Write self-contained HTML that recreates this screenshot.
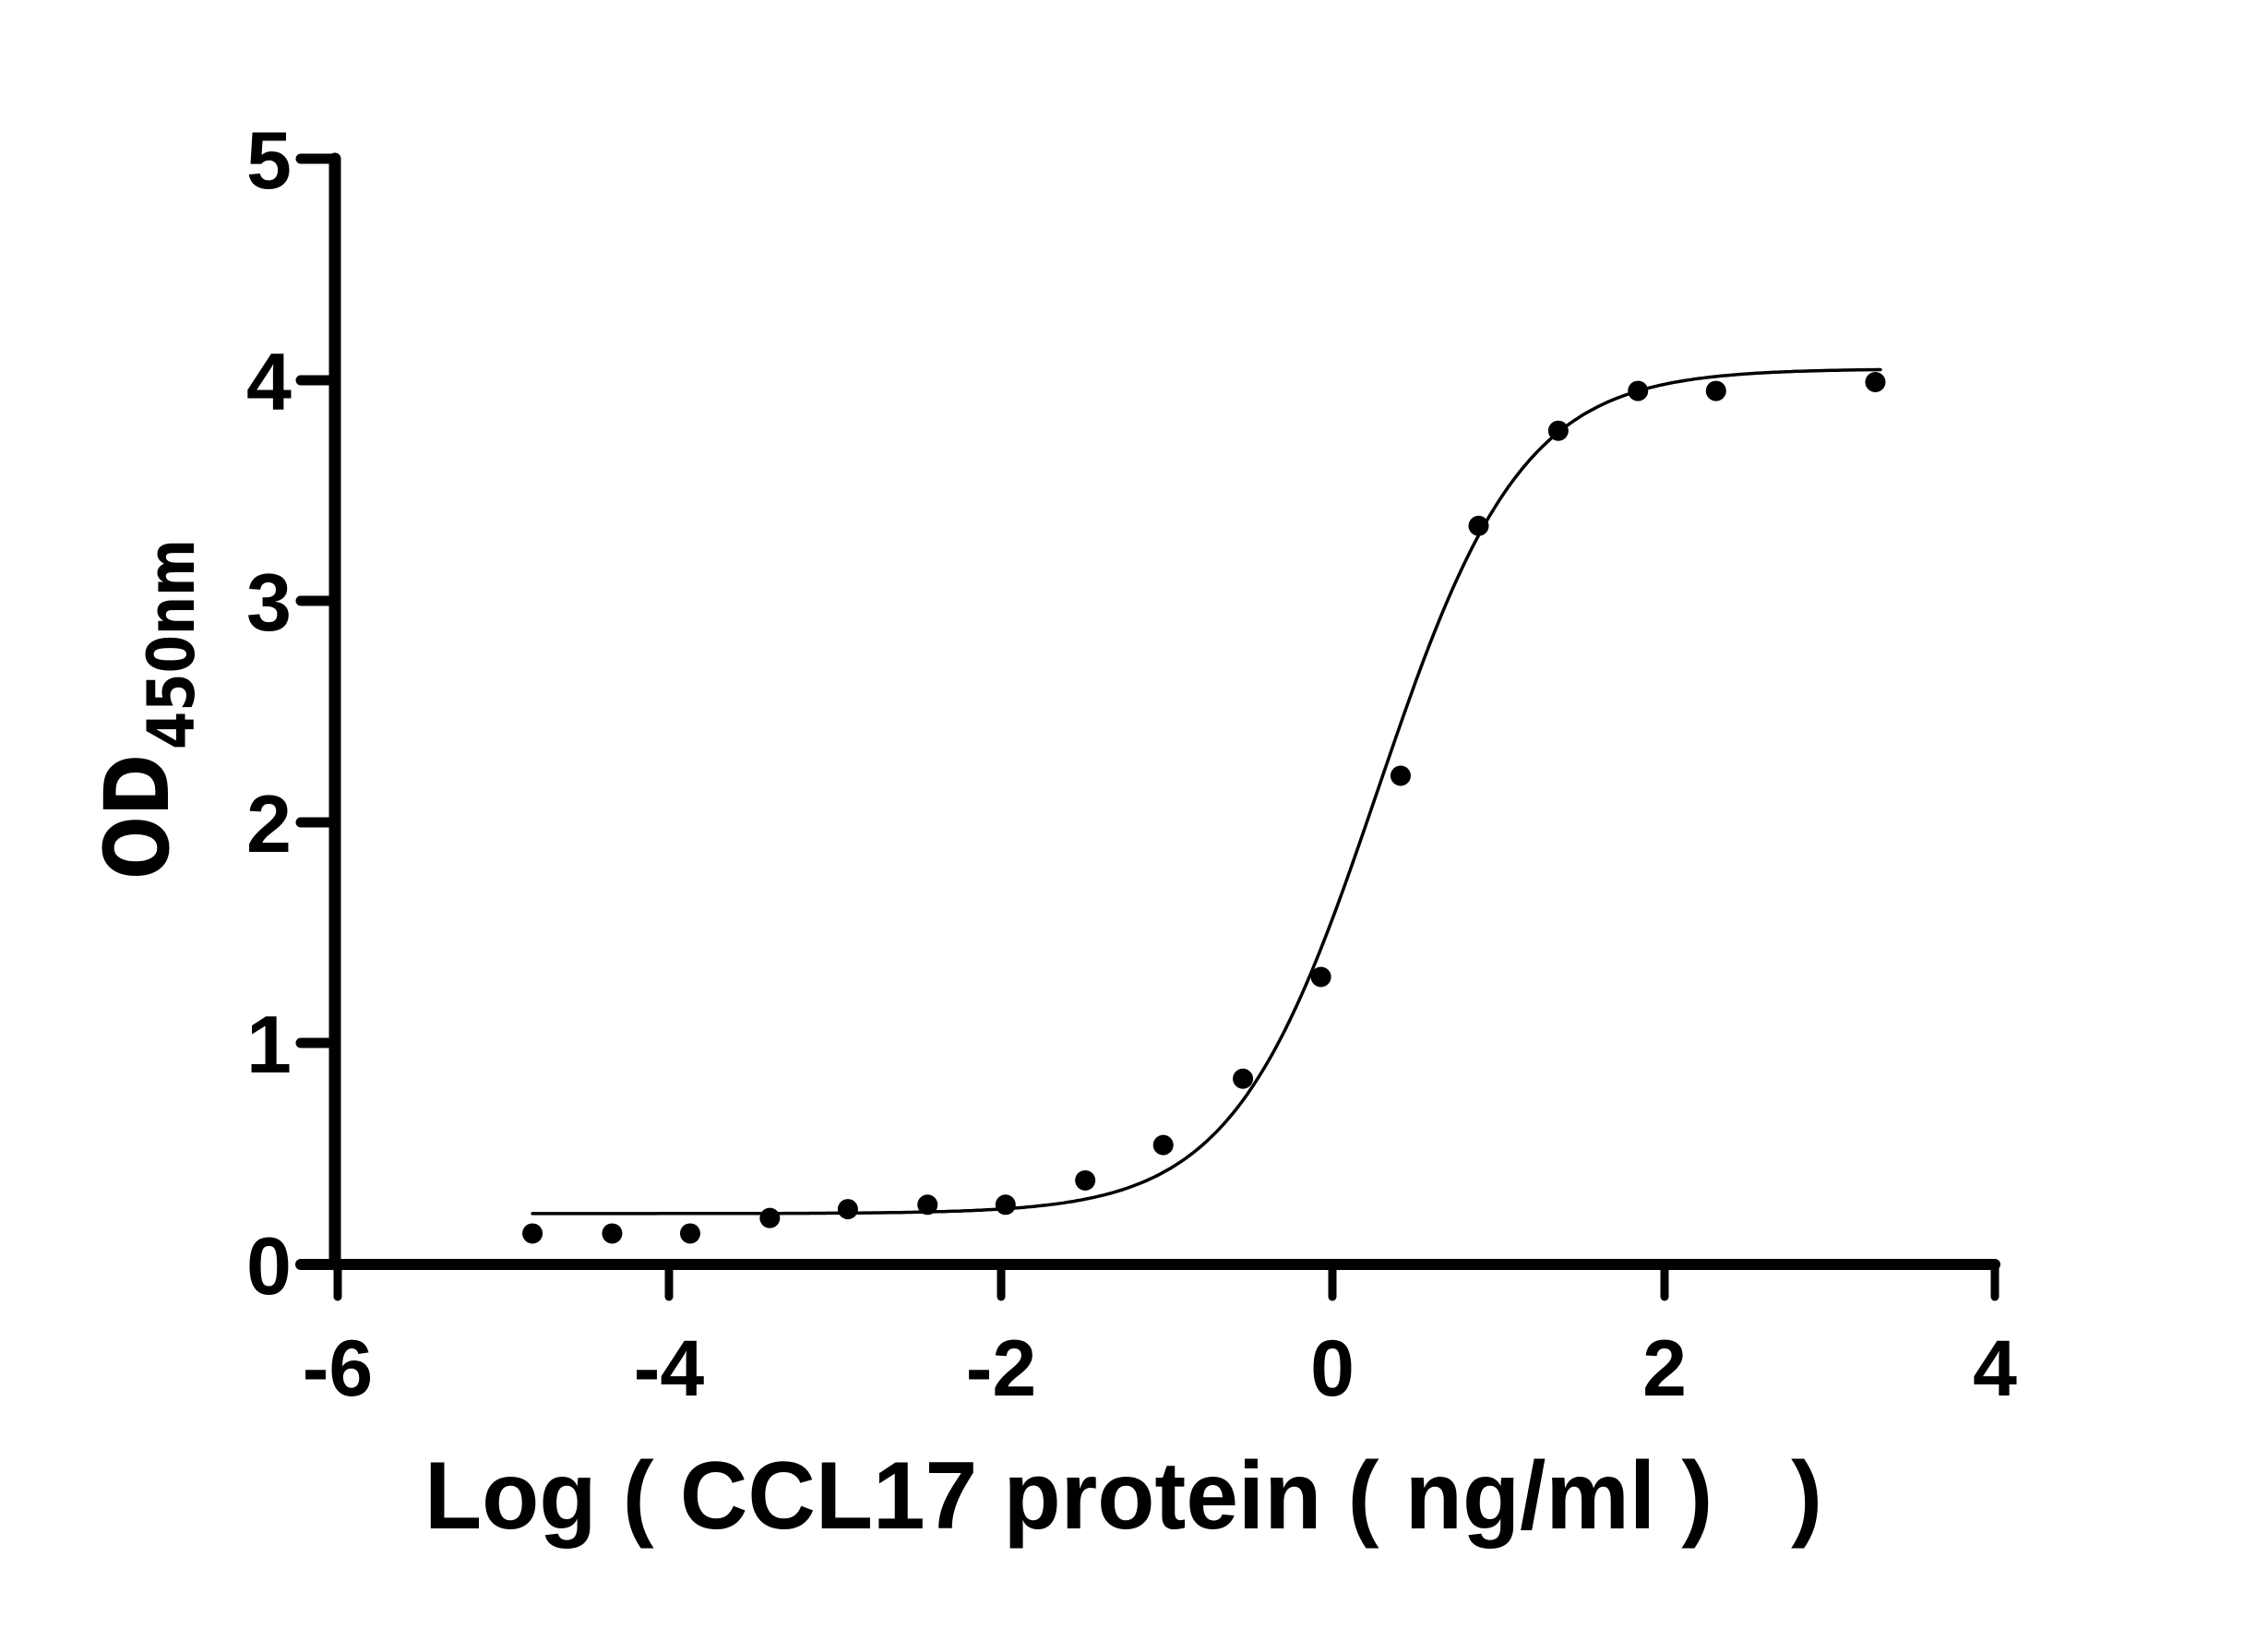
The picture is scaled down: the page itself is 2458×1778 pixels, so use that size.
<!DOCTYPE html>
<html><head><meta charset="utf-8"><style>html,body{margin:0;padding:0;background:#fff}</style></head>
<body>
<svg id="s" width="2458" height="1773" viewBox="0 0 2458 1773" xmlns="http://www.w3.org/2000/svg">
<rect width="2458" height="1773" fill="#fff"/>
<g stroke="#000" stroke-linecap="round" fill="none">
<line x1="363" y1="172" x2="363" y2="1370" stroke-width="13"/>
<line x1="326" y1="1370" x2="2162" y2="1370" stroke-width="12"/>
<g stroke-width="11">
<line x1="326" y1="172" x2="363" y2="172"/>
<line x1="326" y1="412" x2="363" y2="412"/>
<line x1="326" y1="651" x2="363" y2="651"/>
<line x1="326" y1="891" x2="363" y2="891"/>
<line x1="326" y1="1130" x2="363" y2="1130"/>
</g>
<g stroke-width="9">
<line x1="366" y1="1370" x2="366" y2="1405"/>
<line x1="725" y1="1370" x2="725" y2="1405"/>
<line x1="1085" y1="1370" x2="1085" y2="1405"/>
<line x1="1444" y1="1370" x2="1444" y2="1405"/>
<line x1="1804" y1="1370" x2="1804" y2="1405"/>
<line x1="2162" y1="1370" x2="2162" y2="1405"/>
</g>
<polyline id="curve" stroke-width="3.5" points=""/>
</g>
<g id="dots" fill="#000"></g>
<g font-family="Liberation Sans, sans-serif" font-weight="bold" font-size="88" fill="#000" text-anchor="end">
<text x="316" y="204">5</text>
<text x="316" y="444">4</text>
<text x="316" y="683">3</text>
<text x="316" y="923">2</text>
<text x="316" y="1162">1</text>
<text x="316" y="1402">0</text>
</g>
<g font-family="Liberation Sans, sans-serif" font-weight="bold" font-size="86" fill="#000" text-anchor="middle">
<text x="366" y="1512">-6</text>
<text x="725" y="1512">-4</text>
<text x="1085" y="1512">-2</text>
<text x="1444" y="1512">0</text>
<text x="1804" y="1512">2</text>
<text x="2162" y="1512">4</text>
</g>
<text x="460" y="1656" font-family="Liberation Sans, sans-serif" font-weight="bold" font-size="104" textLength="1515" lengthAdjust="spacingAndGlyphs" xml:space="preserve">Log ( CCL17 protein ( ng/ml )   )</text>
<g transform="translate(182,953) rotate(-90)" font-family="DejaVu Sans, sans-serif" font-weight="bold" fill="#000">
<text x="0" y="0" font-size="96" textLength="136" lengthAdjust="spacingAndGlyphs">OD</text>
<text x="141" y="28" font-size="70" textLength="228" lengthAdjust="spacingAndGlyphs">450nm</text>
</g>
</svg>
<script>
(function(){
var X=function(v){return 363+(v+6)*179.9;},Y=function(v){return 1370-v*239.6;};
var pts=[];for(var x=-4.81;x<=3.31;x+=0.02){var y=0.23+3.82/(1+Math.pow(10,(0.28-x)*1.0));pts.push(X(x).toFixed(1)+","+Y(y).toFixed(1));}
document.getElementById('curve').setAttribute('points',pts.join(' '));
var d=[[-4.81,0.14],[-4.33,0.14],[-3.86,0.14],[-3.38,0.21],[-2.91,0.25],[-2.43,0.27],[-1.96,0.27],[-1.48,0.38],[-1.01,0.54],[-0.53,0.84],[-0.06,1.30],[0.42,2.21],[0.89,3.34],[1.37,3.77],[1.85,3.95],[2.32,3.95],[3.28,3.99]];
var g=document.getElementById('dots'),ns='http://www.w3.org/2000/svg';
d.forEach(function(p){var c=document.createElementNS(ns,'circle');c.setAttribute('cx',X(p[0]));c.setAttribute('cy',Y(p[1]));c.setAttribute('r',11);g.appendChild(c);});
})();
</script>
</body></html>
